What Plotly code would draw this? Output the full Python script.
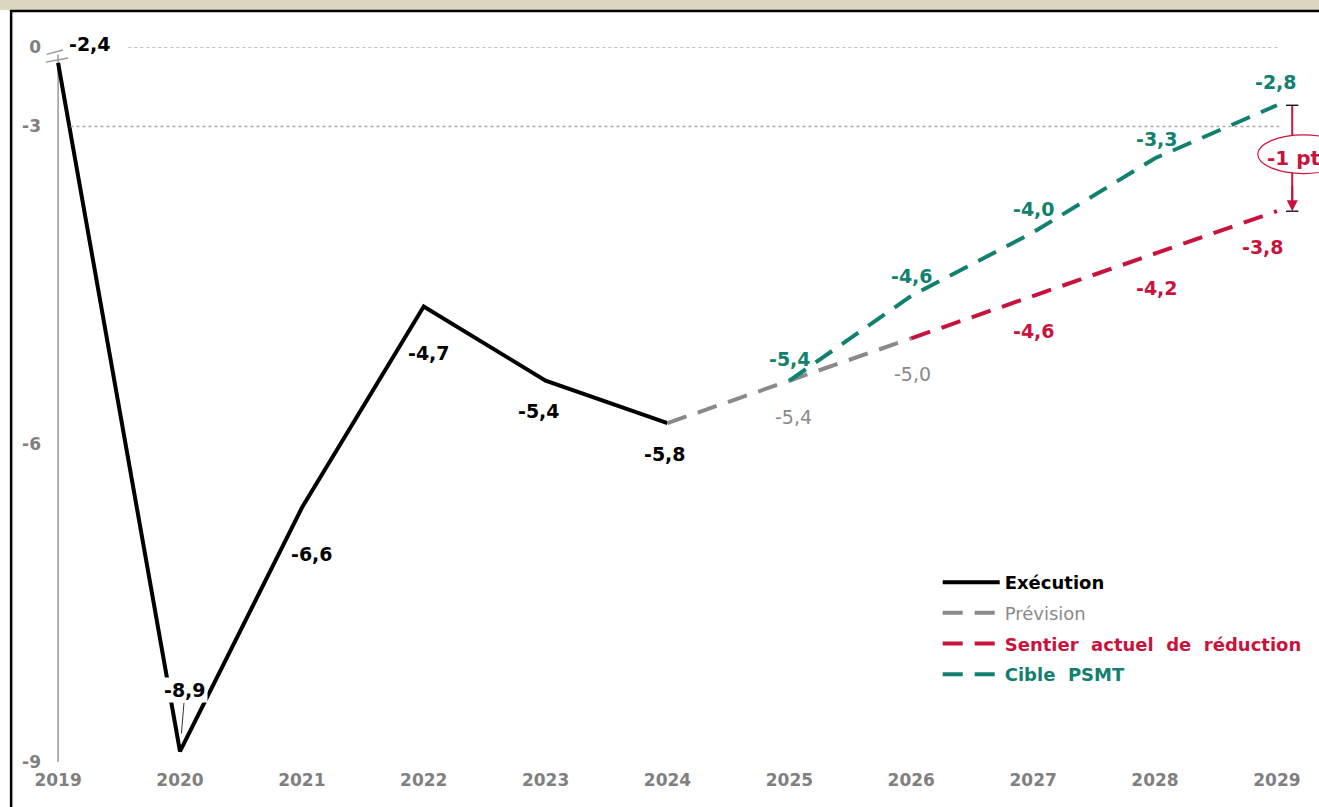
import plotly.graph_objects as go

# ---------------- data ----------------
years_exec = [2019, 2020, 2021, 2022, 2023, 2024]
vals_exec = [-2.4, -8.9, -6.6, -4.7, -5.4, -5.8]

years_prev = [2024, 2025, 2026]
vals_prev = [-5.8, -5.4, -5.0]

years_sent = [2026, 2027, 2028, 2029]
vals_sent = [-5.0, -4.6, -4.2, -3.8]

years_cible = [2025, 2026, 2027, 2028, 2029]
vals_cible = [-5.4, -4.6, -4.0, -3.3, -2.8]

x_ticks = list(range(2019, 2030))
y_tickvals = [-2.25, -3, -6, -9]
y_ticktext = ["0", "-3", "-6", "-9"]

gap_label = "-1 pt"

# ---------------- styles ----------------
BLACK = "#000000"
GRAY = "#8A8A8A"
RED = "#C8143C"
TEAL = "#12806F"
FONT = "DejaVu Sans, Verdana, sans-serif"
LBL = 19
NB = "\u00a0"

def fmt(v):
    return f"{v:.1f}".replace(".", ",")

fig = go.Figure()

fig.add_trace(go.Scatter(x=years_exec, y=vals_exec, mode="lines",
                         line=dict(color=BLACK, width=4),
                         name="<b>Exécution</b>", legendgroup="a"))
fig.add_trace(go.Scatter(x=years_prev, y=vals_prev, mode="lines",
                         line=dict(color=GRAY, width=4, dash="20px,12px"),
                         name=f"<span style='color:{GRAY}'>Prévision</span>", legendgroup="b"))
fig.add_trace(go.Scatter(x=years_sent, y=vals_sent, mode="lines",
                         line=dict(color=RED, width=4, dash="20px,12px"),
                         name=f"<span style='color:{RED}'><b>Sentier{NB} actuel{NB} de{NB} réduction</b></span>",
                         legendgroup="c"))
fig.add_trace(go.Scatter(x=years_cible, y=vals_cible, mode="lines",
                         line=dict(color=TEAL, width=4, dash="20px,12px"),
                         name=f"<span style='color:{TEAL}'><b>Cible{NB} PSMT</b></span>",
                         legendgroup="d"))

annotations = []

def add_labels(xs, ys, offsets, color, bold=True, bg=None, skip=()):
    for i, (x, y) in enumerate(zip(xs, ys)):
        if i in skip:
            continue
        dx, dy = offsets[i]
        txt = fmt(y)
        if bold:
            txt = f"<b>{txt}</b>"
        annotations.append(dict(x=x, y=y, xref="x", yref="y", text=txt,
                                showarrow=False, xshift=dx, yshift=-dy,
                                font=dict(family=FONT, size=LBL, color=color),
                                bgcolor=bg))

exec_off = [(32, -19), (5, -61), (10, 46), (5, 46), (-7, 30), (-3, 31)]
prev_off = [(0, 0), (4, 36), (1, 36)]
sent_off = [(0, 0), (1, 35), (2, 34), (-14, 36)]
cible_off = [(1, -22), (1, -20), (1, -23), (2, -19), (-1, -23)]

add_labels(years_exec, vals_exec, exec_off, BLACK, skip=(1,))
add_labels(years_prev, vals_prev, prev_off, GRAY, bold=False, skip=(0,))
add_labels(years_sent, vals_sent, sent_off, RED, skip=(0,))
add_labels(years_cible, vals_cible, cible_off, TEAL)

# -8,9 label with leader line
annotations.append(dict(x=years_exec[1], y=vals_exec[1], xref="x", yref="y",
                        text=f"<b>{fmt(vals_exec[1])}</b>", showarrow=True,
                        arrowhead=0, arrowwidth=0.8, arrowcolor=BLACK,
                        ax=5, ay=-61, standoff=18, bgcolor="white",
                        font=dict(family=FONT, size=LBL, color=BLACK)))

ARROW_X = 1.0075
# -1 pt text
annotations.append(dict(x=ARROW_X, y=(vals_cible[-1] + vals_sent[-1]) / 2, xref="paper", yref="y",
                        text=f"<b>{gap_label}</b>", showarrow=False, xanchor="left",
                        xshift=-27,
                        font=dict(family=FONT, size=20, color=RED)))
# arrowhead
annotations.append(dict(x=ARROW_X, y=vals_sent[-1], xref="paper", yref="y",
                        ax=0, ay=vals_sent[-1] + 0.25, ayref="y", text="",
                        showarrow=True, arrowhead=2, arrowsize=1.1, arrowwidth=2,
                        arrowcolor=RED, standoff=0))

shapes = []
# dotted gridlines
shapes.append(dict(type="line", xref="paper", yref="y", x0=0.062, x1=0.997,
                   y0=y_tickvals[0], y1=y_tickvals[0],
                   line=dict(color="#AAAAAA", width=1.5, dash="dot")))
shapes.append(dict(type="line", xref="paper", yref="y", x0=0.015, x1=0.997,
                   y0=y_tickvals[1], y1=y_tickvals[1],
                   line=dict(color="#AAAAAA", width=1.5, dash="dot")))
# y axis line
shapes.append(dict(type="line", xref="x", yref="y", x0=2019, x1=2019, y0=-9, y1=-2.32,
                   line=dict(color="#999999", width=1.5), layer="below"))
# axis break marks
shapes.append(dict(type="line", xref="paper", yref="paper",
                   x0=-0.0045, y0=0.9897, x1=0.0089, y1=0.9958,
                   line=dict(color="#999999", width=1.3)))
shapes.append(dict(type="line", xref="paper", yref="paper",
                   x0=-0.0050, y0=0.9790, x1=0.0130, y1=0.9846,
                   line=dict(color="#999999", width=1.3)))
# -1 pt arrow line
shapes.append(dict(type="line", xref="paper", yref="y", x0=ARROW_X, x1=ARROW_X,
                   y0=vals_cible[-1], y1=vals_sent[-1] + 0.1,
                   line=dict(color=RED, width=2)))
# small black ticks at arrow ends
for yy in (vals_cible[-1], vals_sent[-1]):
    shapes.append(dict(type="line", xref="paper", yref="y", x0=ARROW_X - 0.005, x1=ARROW_X + 0.005,
                       y0=yy, y1=yy, line=dict(color=BLACK, width=1.3)))
# ellipse
shapes.append(dict(type="circle", xref="paper", yref="paper",
                   x0=0.9795, x1=1.054, y0=0.823, y1=0.877,
                   line=dict(color=RED, width=1.2), fillcolor="white"))
# frame
shapes.append(dict(type="rect", xref="paper", yref="paper", x0=-0.05, x1=1.04,
                   y0=1.0517, y1=1.07, fillcolor="#DCD7BF", line=dict(width=0)))
shapes.append(dict(type="line", xref="paper", yref="paper", x0=-0.0342, x1=1.04,
                   y0=1.0503, y1=1.0503, line=dict(color=BLACK, width=2.5)))
shapes.append(dict(type="line", xref="paper", yref="paper", x0=-0.0332, x1=-0.0332,
                   y0=-0.07, y1=1.0517, line=dict(color=BLACK, width=2.5)))

fig.update_layout(
    width=1319, height=807,
    margin=dict(l=52, r=32, t=47, b=45),
    paper_bgcolor="white", plot_bgcolor="white",
    font=dict(family=FONT, color=BLACK),
    showlegend=True,
    legend=dict(x=0.7195, y=0.277, xanchor="left", yanchor="top",
                font=dict(family=FONT, size=18, color=BLACK),
                tracegroupgap=4.3, traceorder="grouped", itemwidth=57,
                bgcolor="rgba(0,0,0,0)"),
    annotations=annotations,
    shapes=shapes,
    xaxis=dict(range=[2018.95, 2029.05], tickvals=x_ticks,
               ticktext=[f"<b>{t}</b>" for t in x_ticks],
               showgrid=False, zeroline=False, showline=False, ticks="",
               tickfont=dict(family=FONT, size=17, color="#808080"),
               ticklabelstandoff=6),
    yaxis=dict(range=[-9, -2.25], tickvals=y_tickvals,
               ticktext=[f"<b>{t}</b>" for t in y_ticktext],
               showgrid=False, zeroline=False, showline=False, ticks="",
               tickfont=dict(family=FONT, size=17, color="#808080"),
               ticklabelstandoff=10),
)

fig.write_html("out.html", config={"displayModeBar": False},
               post_script="document.body.style.margin='0';document.body.style.overflow='hidden';")
